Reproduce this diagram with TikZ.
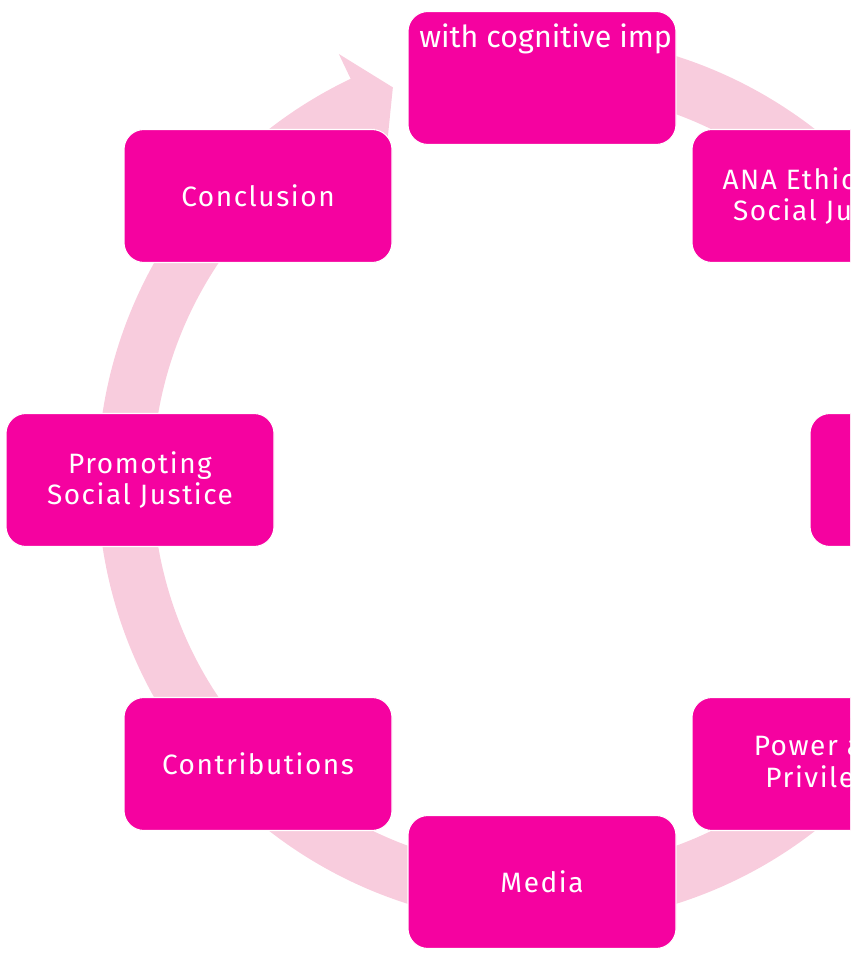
\documentclass[tikz,border=0pt]{standalone}
\usepackage{fontspec}
\setmainfont{Fira Sans}
\newfontfamily\boxfont[LetterSpace=5.5]{Fira Sans}
\newfontfamily\topfont{Fira Sans}
\definecolor{boxpink}{RGB}{245,2,160}
\definecolor{bandpink}{RGB}{248,204,221}
\begin{document}
\begin{tikzpicture}[x=0.75pt,y=0.75pt,
  cyclebox/.style={rectangle, rounded corners=15pt, fill=boxpink, draw=white,
    line width=0.8pt, minimum width=201pt, minimum height=99.75pt,
    text=white, align=center, inner sep=0pt,
    font=\boxfont\fontsize{21}{23.5}\selectfont},
  band/.style={bandpink, line width=41.25pt}]
\useasboundingbox (0,0) rectangle (850,956);
\clip (0,0) rectangle (850,956);
\coordinate (C) at (542,476);
% cycle band
\draw[band] ([shift={(C)}]100:417) arc[start angle=100, end angle=-245, radius=417];
\fill[bandpink] ([shift={(C)}]115.5:389) -- ([shift={(C)}]115.5:362)
  -- ([shift={(C)}]110.8:420) -- ([shift={(C)}]115.5:472)
  -- ([shift={(C)}]115.5:445) -- cycle;
% boxes
\node[cyclebox] (n1) at (542,878) {};
\node[anchor=base west, inner sep=0pt, text=white,
  font=\topfont\fontsize{22.8}{26}\selectfont] (t1) at (419,908) {with cognitive imp};
\node[cyclebox] (n2) at (826,760) {ANA Ethics and\\Social Justice};
\node[cyclebox] (n3) at (944,476) {};
\node[cyclebox] (n4) at (826,192) {Power and\\Privilege};
\node[cyclebox] (n5) at (542,74) {Media};
\node[cyclebox] (n6) at (258,192) {Contributions};
\node[cyclebox] (n7) at (140,476) {Promoting\\Social Justice};
\node[cyclebox] (n8) at (258,760) {Conclusion};
\end{tikzpicture}
\end{document}
